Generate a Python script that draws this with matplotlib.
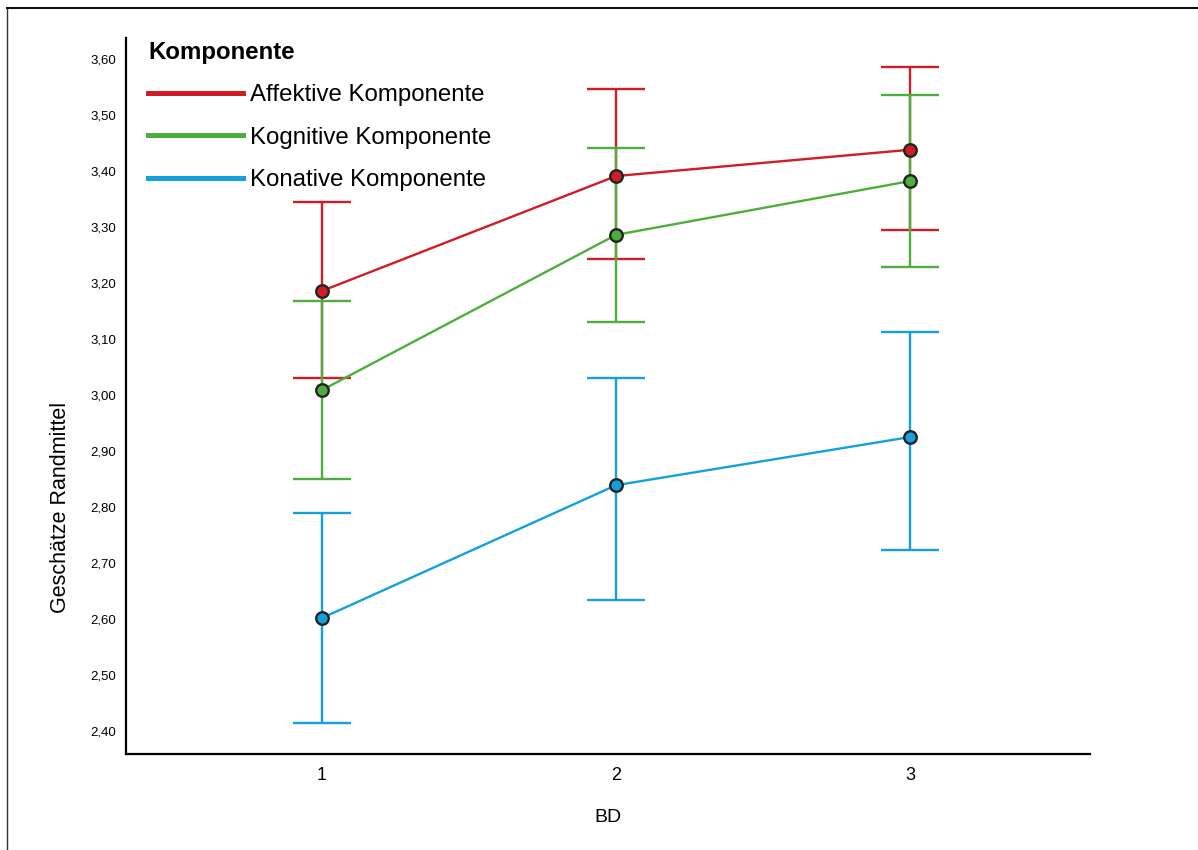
import matplotlib.pyplot as plt
from matplotlib.lines import Line2D
from matplotlib.ticker import FuncFormatter, MultipleLocator

plt.rcParams['font.family'] = ['Liberation Sans', 'DejaVu Sans']

bd = [1, 2, 3]
series_names = ['Affektive Komponente', 'Kognitive Komponente', 'Konative Komponente']
colors = ['#d01c24', '#4caf3c', '#14a0dc']

affektiv_mean = [3.186, 3.391, 3.438]
affektiv_lo = [3.030, 3.243, 3.295]
affektiv_hi = [3.345, 3.546, 3.586]

kognitiv_mean = [3.009, 3.286, 3.382]
kognitiv_lo = [2.850, 3.130, 3.229]
kognitiv_hi = [3.168, 3.441, 3.536]

konativ_mean = [2.602, 2.839, 2.925]
konativ_lo = [2.414, 2.634, 2.723]
konativ_hi = [2.789, 3.030, 3.112]

means = [affektiv_mean, kognitiv_mean, konativ_mean]
lows = [affektiv_lo, kognitiv_lo, konativ_lo]
highs = [affektiv_hi, kognitiv_hi, konativ_hi]

fig = plt.figure(figsize=(11.98, 8.5), dpi=100)
ax = fig.add_axes([0.1052, 0.1129, 0.8046, 0.8424])

# draw konative first so red sits on top
for i in [2, 1, 0]:
    m, lo, hi, c = means[i], lows[i], highs[i], colors[i]
    yerr = [[a - b for a, b in zip(m, lo)], [b - a for a, b in zip(m, hi)]]
    ax.errorbar(bd, m, yerr=yerr, fmt='none', ecolor=c, elinewidth=1.7,
                capsize=21, capthick=1.7, zorder=2 + i * 0.1)
for i in [2, 1, 0]:
    ax.plot(bd, means[i], color=colors[i], lw=1.7, marker='o', markersize=9,
            markerfacecolor=colors[i], markeredgecolor='#222222',
            markeredgewidth=1.7, zorder=4)

ax.set_xlim(0.333, 3.612)
ax.set_ylim(2.359, 3.6375)
ax.set_xticks(bd)
ax.yaxis.set_major_locator(MultipleLocator(0.1))
ax.yaxis.set_major_formatter(FuncFormatter(lambda v, _: f"{v:.2f}".replace('.', ',')))
ax.tick_params(axis='y', length=0, labelsize=9.5, pad=7)
ax.tick_params(axis='x', length=0, labelsize=13, pad=9)
for s in ['top', 'right']:
    ax.spines[s].set_visible(False)
for s in ['left', 'bottom']:
    ax.spines[s].set_linewidth(1.6)
    ax.spines[s].set_color('black')

ax.set_ylabel('Geschätze Randmittel', fontsize=15.5)
ax.yaxis.set_label_coords(-0.057, 0.345)
ax.set_xlabel('BD', fontsize=14, labelpad=18)

handles = [Line2D([0], [0], color=c, lw=3.6) for c in colors]
leg = ax.legend(handles, series_names, title='Komponente', loc='upper left',
                bbox_to_anchor=(0.0228, 0.996), frameon=False, fontsize=17.3,
                borderpad=0, borderaxespad=0,
                handlelength=3.95, handletextpad=0.29, labelspacing=0.85,
                alignment='left',
                title_fontproperties={'weight': 'bold', 'size': 17.3})

# outer frame
fig.add_artist(Line2D([0.006, 0.006], [0, 0.991], color='#333333', lw=1, transform=fig.transFigure))
fig.add_artist(Line2D([0.006, 1.0], [0.991, 0.991], color='#111111', lw=1.5, transform=fig.transFigure))

fig.savefig('out.png', dpi=100)
